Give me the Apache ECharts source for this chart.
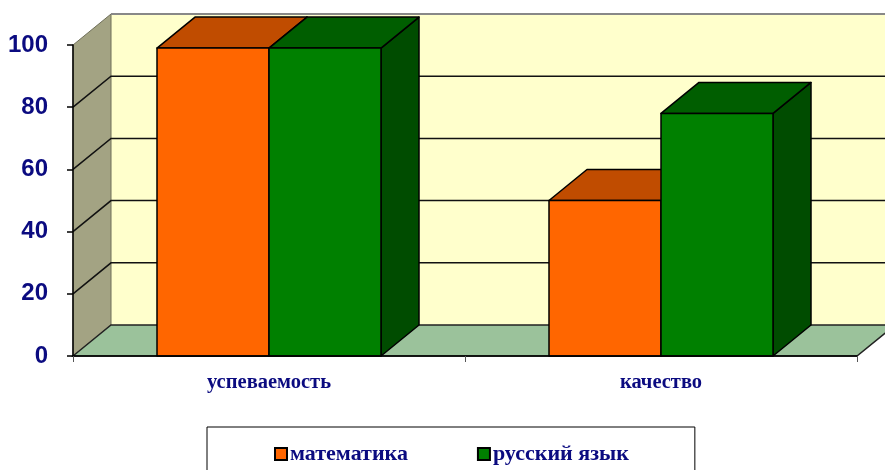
<!DOCTYPE html>
<html>
<head>
<meta charset="utf-8">
<script src="https://cdn.jsdelivr.net/npm/echarts@6/dist/echarts.min.js"></script>
<style>
  html, body { margin: 0; padding: 0; background: #fff; }
  #chart { width: 885px; height: 470px; }
</style>
</head>
<body>
<div id="chart"></div>
<script>
const categories = ['успеваемость', 'качество']
const mathValues = [99, 50]
const russianValues = [99, 78]
const yTicks = [0, 20, 40, 60, 80, 100]

// 3D depth offset (px)
const DX = 38
const DY = -31

const chart = echarts.init(document.getElementById('chart'))

// walls, floor and gridlines
function renderWalls(params, api) {
  const cs = params.coordSys
  const x0 = cs.x
  const x1 = cs.x + cs.width
  const v = api.value(1)
  const y = api.coord([0, v])[1]
  const children = []
  if (params.dataIndex === 0) {
    const yb = api.coord([0, 0])[1]
    const yt = api.coord([0, yTicks[yTicks.length - 1]])[1]
    // back wall
    children.push({
      type: 'polygon',
      shape: { points: [[x0 + DX, yt + DY], [x1 + DX + 40, yt + DY], [x1 + DX + 40, yb + DY], [x0 + DX, yb + DY]] },
      style: { fill: '#FFFFCC', stroke: null }
    })
    // side wall
    children.push({
      type: 'polygon',
      shape: { points: [[x0, yb], [x0, yt], [x0 + DX, yt + DY], [x0 + DX, yb + DY]] },
      style: { fill: '#A3A383', stroke: '#6e6e58', lineWidth: 1 }
    })
    // floor
    children.push({
      type: 'polygon',
      shape: { points: [[x0, yb], [x0 + DX, yb + DY], [x1 + DX, yb + DY], [x1, yb]] },
      style: { fill: '#9BC29B', stroke: '#222', lineWidth: 1.5 }
    })
    // top edge of back wall
    children.push({
      type: 'line',
      shape: { x1: x0 + DX, y1: yt + DY, x2: x1 + DX + 40, y2: yt + DY },
      style: { stroke: '#888', lineWidth: 2 }
    })
  }
  if (v > 0 && v < yTicks[yTicks.length - 1]) {
    children.push({
      type: 'polyline',
      shape: { points: [[x0, y], [x0 + DX, y + DY], [x1 + DX + 40, y + DY]] },
      style: { stroke: '#111', lineWidth: 1.5, fill: null }
    })
  }
  return { type: 'group', children: children }
}

function makeBarRenderer(idx, front, top, side) {
  return function (params, api) {
    const cat = api.value(0)
    const val = api.value(1)
    const band = api.size([1, 0])[0]
    const w = band / 3.5
    const center = api.coord([cat, 0])[0]
    const xl = center - w + idx * w
    const xr = xl + w
    const yb = api.coord([cat, 0])[1]
    const yt = api.coord([cat, val])[1]
    const line = { stroke: '#000', lineWidth: 1.5, lineJoin: 'round' }
    return {
      type: 'group',
      children: [
        {
          type: 'polygon',
          shape: { points: [[xr, yb], [xr, yt], [xr + DX, yt + DY], [xr + DX, yb + DY]] },
          style: Object.assign({ fill: side }, line)
        },
        {
          type: 'polygon',
          shape: { points: [[xl, yt], [xl + DX, yt + DY], [xr + DX, yt + DY], [xr, yt]] },
          style: Object.assign({ fill: top }, line)
        },
        {
          type: 'rect',
          shape: { x: xl, y: yt, width: w, height: yb - yt },
          style: Object.assign({ fill: front }, line)
        }
      ]
    }
  }
}

const option = {
  animation: false,
  grid: { left: 73, right: 28, top: 45, bottom: 114 },
  legend: {
    data: [
      { name: 'математика', itemStyle: { color: '#FF6600', borderColor: '#000', borderWidth: 2 } },
      { name: 'русский язык', itemStyle: { color: '#008000', borderColor: '#000', borderWidth: 2 } }
    ],
    left: 207,
    top: 427,
    orient: 'horizontal',
    icon: 'rect',
    itemWidth: 12,
    itemHeight: 12,
    itemGap: 69,
    padding: [16, 66, 30, 67],
    borderColor: '#000',
    borderWidth: 1,
    textStyle: {
      fontFamily: '"Liberation Serif", "Times New Roman", serif',
      fontWeight: 'bold',
      fontSize: 22,
      color: '#0B0B80',
      padding: [0, 0, 0, -2]
    }
  },
  xAxis: {
    type: 'category',
    data: categories,
    z: 10,
    axisLine: { lineStyle: { color: '#000', width: 1.5 } },
    axisTick: { show: true, length: 6, lineStyle: { color: '#555' } },
    axisLabel: {
      margin: 16,
      fontFamily: '"Liberation Serif", "Times New Roman", serif',
      fontWeight: 'bold',
      fontSize: 20.5,
      color: '#0B0B80'
    },
    splitLine: { show: false }
  },
  yAxis: {
    type: 'value',
    min: 0,
    max: 100,
    interval: 20,
    z: 10,
    axisLine: { show: true, lineStyle: { color: '#000', width: 1.5 } },
    axisTick: { show: true, length: 6, lineStyle: { color: '#000', width: 1.5 } },
    axisLabel: {
      margin: 25,
      fontFamily: '"Liberation Sans", Arial, sans-serif',
      fontWeight: 'bold',
      fontSize: 24,
      color: '#0B0B80'
    },
    splitLine: { show: false }
  },
  series: [
    {
      name: 'walls',
      type: 'custom',
      renderItem: renderWalls,
      data: yTicks.map(v => [0, v]),
      silent: true,
      z: 1
    },
    {
      name: 'математика',
      type: 'custom',
      renderItem: makeBarRenderer(0, '#FF6600', '#C04C00', '#A03C00'),
      itemStyle: { color: '#FF6600' },
      data: mathValues.map((v, i) => [i, v]),
      z: 2
    },
    {
      name: 'русский язык',
      type: 'custom',
      renderItem: makeBarRenderer(1, '#008000', '#005E00', '#004C00'),
      itemStyle: { color: '#008000' },
      data: russianValues.map((v, i) => [i, v]),
      z: 3
    }
  ]
}

chart.setOption(option)
</script>
</body>
</html>
